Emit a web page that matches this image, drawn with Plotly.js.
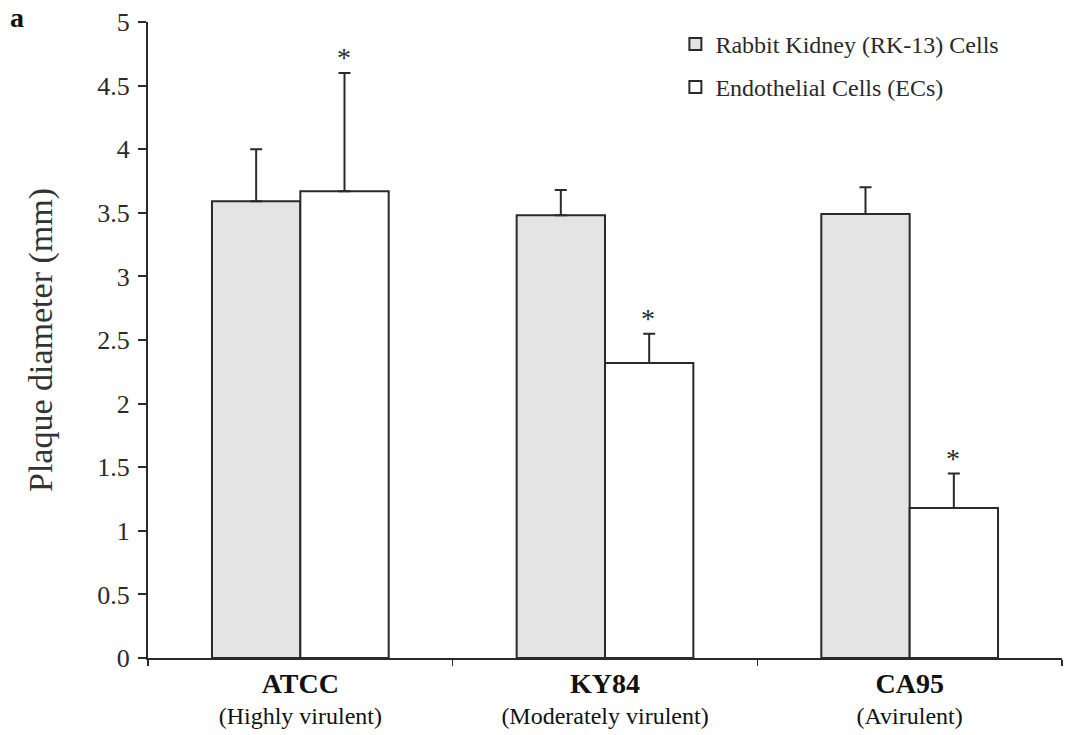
<!DOCTYPE html>
<html>
<head>
<meta charset="utf-8">
<script src="https://cdn.plot.ly/plotly-3.0.1.min.js"></script>
<style>html,body{margin:0;padding:0;background:#fff;}#chart{width:1066px;height:735px;}</style>
</head>
<body>
<div id="chart"></div>
<script>
var categories = ["ATCC", "KY84", "CA95"];
var subtitles = ["(Highly virulent)", "(Moderately virulent)", "(Avirulent)"];
var rkValues = [3.59, 3.48, 3.49];
var rkErrors = [0.41, 0.20, 0.21];
var ecValues = [3.67, 2.32, 1.18];
var ecErrors = [0.93, 0.23, 0.27];
var ecSignificant = [true, true, true];
var seriesNames = ["Rabbit Kidney (RK-13) Cells", "Endothelial Cells (ECs)"];
var yTicks = [0, 0.5, 1, 1.5, 2, 2.5, 3, 3.5, 4, 4.5, 5];
var yTickText = ["0", "0.5", "1", "1.5", "2", "2.5", "3", "3.5", "4", "4.5", "5"];

var FONT = "Liberation Serif, Times New Roman, serif";
var INK = "#2a2a2a";
var zeros = categories.map(function(){return 0;});

var traces = [
  {
    type: "bar", name: seriesNames[0], x: categories, y: rkValues,
    marker: {color: "#e4e4e4", line: {color: INK, width: 2}},
    error_y: {type: "data", symmetric: false, array: rkErrors, arrayminus: zeros, color: INK, thickness: 2, width: 6},
    legend: "legend"
  },
  {
    type: "bar", name: seriesNames[1], x: categories, y: ecValues,
    marker: {color: "#ffffff", line: {color: INK, width: 2}},
    error_y: {type: "data", symmetric: false, array: ecErrors, arrayminus: zeros, color: INK, thickness: 2, width: 6},
    legend: "legend2"
  }
];

var annotations = [];
categories.forEach(function(c, i){
  if (ecSignificant[i]) {
    annotations.push({
      x: i + 0.142, y: ecValues[i] + ecErrors[i], xref: "x", yref: "y",
      text: "*", showarrow: false, yanchor: "bottom", yshift: -2,
      font: {family: FONT, size: 28, color: INK}
    });
  }
});
annotations.push({
  x: (17 - 148) / 914, y: 1 + (22 - 1) / 636, xref: "paper", yref: "paper",
  text: "<b>a</b>", showarrow: false, xanchor: "center", yanchor: "top", borderpad: 0,
  font: {family: FONT, size: 28, color: "#111"}
});

var tickText = categories.map(function(c, i){
  return "<b><span style='font-size:28px'>" + c + "</span></b><br><span style='font-size:24px'>" + subtitles[i] + "</span>";
});

var layout = {
  width: 1066, height: 735,
  margin: {l: 148, r: 4, t: 22, b: 77},
  paper_bgcolor: "#fff", plot_bgcolor: "#fff",
  barmode: "group", bargap: 0.42, bargroupgap: 0,
  font: {family: FONT, color: INK},
  xaxis: {
    type: "category", tickvals: categories, ticktext: tickText,
    tickson: "boundaries", ticks: "outside", ticklen: 6, tickwidth: 1.5, tickcolor: INK,
    showline: true, linecolor: INK, linewidth: 2, showgrid: false, zeroline: false,
    ticklabelstandoff: 4,
    tickfont: {family: FONT, size: 24, color: "#111"}, range: [-0.5, 2.5]
  },
  yaxis: {
    range: [0, 5], tickvals: yTicks, ticktext: yTickText,
    ticks: "outside", ticklen: 8, tickwidth: 2, tickcolor: INK,
    showline: true, linecolor: INK, linewidth: 2, showgrid: false, zeroline: false,
    ticklabelstandoff: 3,
    tickfont: {family: FONT, size: 26, color: INK},
    title: {text: "Plaque diameter (mm)", font: {family: FONT, size: 34, color: "#333"}, standoff: 34}
  },
  legend: {
    x: 0.577, y: 1 - (22 - 22) / 636, xanchor: "left", yanchor: "top",
    bgcolor: "rgba(0,0,0,0)", font: {family: FONT, size: 24, color: INK}
  },
  legend2: {
    x: 0.577, y: 1 - (65 - 22) / 636, xanchor: "left", yanchor: "top",
    bgcolor: "rgba(0,0,0,0)", font: {family: FONT, size: 24, color: INK}
  },
  showlegend: true,
  annotations: annotations
};

Plotly.newPlot("chart", traces, layout, {displayModeBar: false, staticPlot: true});
</script>
</body>
</html>
